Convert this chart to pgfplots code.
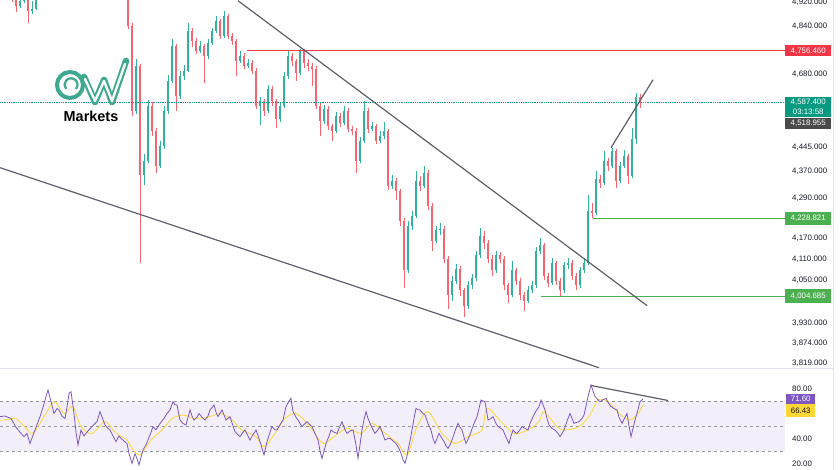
\documentclass[border=0pt]{standalone}
\usepackage{pgfplots}
\pgfplotsset{compat=1.18}
\usepackage{pgfplotstable}
\usepackage{fontspec}
\setmainfont{Liberation Sans}
\definecolor{cup}{HTML}{35B09C}
\definecolor{cdn}{HTML}{F5646F}
\definecolor{cred}{HTML}{F23645}
\definecolor{cteal}{HTML}{089981}
\definecolor{cgreen}{HTML}{4CAF50}
\definecolor{cgraybox}{HTML}{4A4A4A}
\definecolor{cpurple}{HTML}{7E57C2}
\definecolor{cyellow}{HTML}{FDD835}
\definecolor{ctrend}{HTML}{5D606B}
\definecolor{cband}{HTML}{F2EEFA}
\definecolor{cdash}{HTML}{9598A1}
\definecolor{cborder}{HTML}{E0E3EB}
\definecolor{clogo}{HTML}{3FA98F}
\definecolor{ctext}{HTML}{131722}

\pgfplotstableread{
x o h l c
0 5010 5020 4985 4997
4 4997 5005 4968 4979
8 4979 4990 4950 4962
12 4962 4970 4922 4934
16 4934 4940 4888 4910
20 4910 4935 4902 4927
24 4927 4955 4920 4944
28 4944 4950 4850 4892
32 4892 4925 4880 4899
36 4899 4970 4895 4962
40 4962 5005 4955 4997
44 4997 5040 4990 5032
48 5032 5075 5025 5067
52 5067 5095 5060 5085
56 5085 5112 5078 5103
60 5103 5110 5075 5085
64 5085 5130 5080 5121
68 5121 5150 5115 5139
72 5139 5145 5095 5103
76 5103 5128 5096 5121
80 5121 5148 5115 5139
84 5139 5144 5095 5103
88 5103 5110 5078 5085
92 5085 5110 5080 5103
96 5103 5108 5060 5067
100 5067 5092 5060 5085
104 5085 5090 5042 5050
108 5050 5075 5045 5067
112 5067 5072 5025 5032
116 5032 5058 5028 5050
120 5050 5055 5005 5014
124 5014 5020 4950 4962
128 4962 4970 4830 4841
132 4841 4850 4545 4561
136 4561 4730 4550 4707
140 4707 4712 4099 4360
144 4360 4425 4330 4404
148 4404 4595 4395 4577
152 4577 4590 4480 4497
156 4497 4505 4365 4388
160 4388 4465 4380 4450
164 4450 4575 4440 4561
168 4561 4675 4550 4658
172 4658 4795 4650 4773
176 4773 4780 4561 4609
180 4609 4690 4600 4674
184 4674 4710 4660 4691
188 4691 4850 4685 4824
192 4824 4835 4770 4790
196 4790 4800 4745 4757
200 4757 4790 4748 4773
204 4773 4780 4650 4740
208 4740 4795 4730 4783
212 4783 4835 4775 4824
216 4824 4875 4815 4858
220 4858 4865 4795 4807
224 4807 4892 4800 4875
228 4875 4880 4795 4807
232 4807 4815 4775 4790
236 4790 4798 4674 4724
240 4724 4755 4715 4740
244 4740 4748 4695 4707
248 4707 4728 4700 4717
252 4717 4725 4680 4691
256 4691 4698 4565 4577
260 4577 4605 4515 4593
264 4593 4600 4545 4561
268 4561 4645 4555 4632
272 4632 4640 4575 4593
276 4593 4600 4505 4535
280 4535 4590 4525 4577
284 4577 4688 4570 4674
288 4674 4755 4665 4740
292 4740 4750 4705 4724
296 4724 4730 4658 4684
300 4684 4762 4678 4757
304 4757 4762 4700 4717
308 4717 4730 4690 4707
312 4707 4715 4640 4697
316 4697 4705 4565 4577
320 4577 4585 4481 4529
324 4529 4580 4520 4567
328 4567 4575 4500 4513
332 4513 4520 4466 4497
336 4497 4558 4490 4545
340 4545 4552 4510 4523
344 4523 4577 4515 4561
348 4561 4568 4492 4503
352 4503 4512 4485 4497
356 4497 4505 4367 4404
360 4404 4478 4395 4466
364 4466 4593 4460 4561
368 4561 4568 4490 4503
372 4503 4525 4495 4513
376 4513 4520 4455 4466
380 4466 4495 4460 4481
384 4481 4526 4470 4497
388 4497 4503 4315 4327
392 4327 4360 4318 4342
396 4342 4350 4285 4312
400 4312 4318 4205 4222
404 4222 4230 4026 4077
408 4077 4220 4070 4207
412 4207 4250 4195 4237
416 4237 4373 4230 4342
420 4342 4355 4310 4327
424 4327 4388 4320 4367
428 4367 4375 4255 4267
432 4267 4275 4134 4163
436 4163 4205 4155 4193
440 4193 4215 4180 4198
444 4198 4205 4098 4111
448 4111 4118 3968 4006
452 4006 4060 3990 4048
456 4048 4094 4038 4082
460 4082 4090 4005 4020
464 4020 4028 3945 3978
468 3978 4046 3970 4034
472 4034 4068 4025 4054
476 4054 4132 4046 4120
480 4120 4200 4112 4178
484 4178 4190 4140 4157
488 4157 4165 4098 4111
492 4111 4120 4062 4077
496 4077 4132 4070 4120
500 4120 4130 4098 4111
504 4111 4118 4020 4034
508 4034 4040 3986 4006
512 4006 4105 4000 4077
516 4077 4085 4035 4048
520 4048 4055 3995 4006
524 4006 4015 3964 3992
528 3992 4032 3985 4020
532 4020 4048 4012 4034
536 4034 4145 4028 4134
540 4134 4170 4125 4149
544 4149 4155 4050 4062
548 4062 4070 4030 4042
552 4042 4112 4035 4099
556 4099 4105 4035 4048
560 4048 4055 4005 4020
564 4020 4102 4012 4091
568 4091 4114 4080 4099
572 4099 4106 4050 4062
576 4062 4070 4020 4034
580 4034 4088 4028 4077
584 4077 4112 4070 4099
588 4099 4300 4092 4252
592 4252 4275 4229 4246
596 4246 4373 4240 4348
600 4348 4360 4320 4336
604 4336 4435 4330 4404
608 4404 4412 4372 4388
612 4388 4444 4380 4435
616 4435 4440 4321 4342
620 4342 4400 4335 4388
624 4388 4436 4380 4419
628 4419 4425 4333 4357
632 4357 4507 4350 4470
636 4470 4618 4455 4606
640 4606 4615 4570 4587.4
}\candles

\begin{document}
\begin{tikzpicture}[x=1bp,y=1bp]
\path[use as bounding box, fill=white] (0,0) rectangle (840,470);

\begin{axis}[
  at={(0,102)}, anchor=south west,
  scale only axis, width=785bp, height=368bp,
  xmin=0, xmax=785,
  y coord trafo/.code={\pgfmathparse{ln(#1)}},
  y coord inv trafo/.code={\pgfmathparse{exp(#1)}},
  ymin=3924.9, ymax=5081.5,
  clip mode=individual,
  axis line style={draw=none},
  major tick length=0, minor tick length=0,
  xtick=\empty,
  ytick={3930,4050,4110,4170,4290,4370,4445,4680,4840,4920},
  yticklabels={{3,930.000},{4,050.000},{4,110.000},{4,170.000},{4,290.000},{4,370.000},{4,445.000},{4,680.000},{4,840.000},{4,920.000}},
  yticklabel pos=right,
  yticklabel style={anchor=west, inner sep=0pt, xshift=7bp, font=\fontsize{7.9}{9}\selectfont, text=ctext},
]
% candles: one wick and one body per row of the table
\pgfplotstablegetrowsof{\candles}
\pgfmathtruncatemacro{\lastrow}{\pgfplotsretval-1}
\pgfplotsforeachungrouped \i in {0,...,\lastrow}{%
  \pgfplotstablegetelem{\i}{x}\of\candles \let\cx\pgfplotsretval
  \pgfplotstablegetelem{\i}{o}\of\candles \let\co\pgfplotsretval
  \pgfplotstablegetelem{\i}{h}\of\candles \let\ch\pgfplotsretval
  \pgfplotstablegetelem{\i}{l}\of\candles \let\cl\pgfplotsretval
  \pgfplotstablegetelem{\i}{c}\of\candles \let\cc\pgfplotsretval
  \ifdim\cc pt<\co pt \def\ccol{cdn}\else\def\ccol{cup}\fi
  \edef\doplot{%
    \noexpand\addplot[\ccol, line width=0.8bp, mark=none, forget plot] coordinates {(\cx,\cl) (\cx,\ch)};%
    \noexpand\addplot[\ccol, line width=2.3bp, mark=none, forget plot] coordinates {(\cx,\co) (\cx,\cc)};%
  }%
  \doplot
}

% levels
\draw[cteal, densely dotted, line width=0.8bp] (axis cs:0,4587.4) -- (axis cs:785,4587.4);
\draw[cred, line width=1bp] (axis cs:247,4756.46) -- (axis cs:785,4756.46);
\draw[cgreen, line width=1bp] (axis cs:593,4228.821) -- (axis cs:785,4228.821);
\draw[cgreen, line width=1bp] (axis cs:541,4004.685) -- (axis cs:785,4004.685);
% trend lines
\draw[ctrend, line width=1.2bp] (axis cs:238,4927) -- (axis cs:647,3978);
\draw[ctrend, line width=1.2bp] (axis cs:0,4382) -- (axis cs:599,3808.2);
\draw[ctrend, line width=1.2bp] (axis cs:611,4444) -- (axis cs:653,4661);

% lowest two scale labels
\tikzset{slabel/.style={anchor=west, inner sep=0pt, xshift=7bp, text=ctext, font=\fontsize{7.9}{9}\selectfont}}
\node[slabel] at (axis cs:785,3874) {3,874.000};
\node[slabel] at (axis cs:785,3819) {3,819.000};

% price labels
\tikzset{plabel/.style={anchor=west, inner sep=0pt, minimum width=46bp, text=white, font=\fontsize{7.9}{9}\selectfont}}
\node[plabel, fill=cred, minimum height=11bp] at (axis cs:785,4756.46) {4,756.460};
\node[plabel, fill=cteal, minimum height=20bp, anchor=north west, align=center, font=\fontsize{7.9}{9.5}\selectfont] at (axis cs:785,4605.6) {4,587.400\\03:13:58};
\node[plabel, fill=cgraybox, minimum height=11.5bp, anchor=north west] at (axis cs:785,4538.6) {4,518.955};
\node[plabel, fill=cgreen, minimum height=13bp] at (axis cs:785,4228.821) {4,228.821};
\node[plabel, fill=cgreen, minimum height=14bp] at (axis cs:785,4004.685) {4,004.685};
\end{axis}

\begin{axis}[
  at={(0,0)}, anchor=south west,
  scale only axis, width=785bp, height=101bp,
  xmin=0, xmax=785,
  ymin=14.8, ymax=95.6,
  clip mode=individual,
  axis line style={draw=none},
  major tick length=0, minor tick length=0,
  xtick=\empty,
  ytick={20,40,80},
  yticklabels={{20.00},{40.00},{80.00}},
  yticklabel pos=right,
  yticklabel style={anchor=west, inner sep=0pt, xshift=7bp, font=\fontsize{7.9}{9}\selectfont, text=ctext},
]
\fill[cband] (axis cs:0,30) rectangle (axis cs:785,70);
\draw[cdash, line width=0.7bp, dash pattern=on 3bp off 3bp] (axis cs:0,70) -- (axis cs:785,70);
\draw[cdash, line width=0.7bp, dash pattern=on 3bp off 3bp] (axis cs:0,50) -- (axis cs:785,50);
\draw[cdash, line width=0.7bp, dash pattern=on 3bp off 3bp] (axis cs:0,30) -- (axis cs:785,30);

\addplot[cyellow, line width=0.8bp, smooth, mark=none] coordinates {
(0,54.8)(8,55)(16,56)(24,50)(32,44)(40,52)(46,60)(54,69.5)(60,64)(65,60)(73,65.5)(81,49.5)(92,44)(105,53.5)(113,46.8)(120,42)(127,38.8)(134,30)(140,26.8)(146,33)(151,38.8)(162,46.8)(172,56)(183,58.8)(190,57)(197,56)(210,57.5)(221,60)(232,54.8)(242,46.8)(256,41.5)(264,33.5)(275,44)(285,56)(296,60)(310,49.5)(323,36)(334,41.5)(347,48.1)(361,44.1)(372,52.1)(385,44.1)(398,36)(407,26.8)(417,49.5)(428,61.5)(442,44.1)(455,36)(468,41.5)(482,46.8)(487,64.1)(501,53.5)(514,44.1)(528,46.8)(539,53.5)(544,61.5)(557,49.5)(565,46.8)(579,49.5)(590,58.8)(598,70.8)(608,69.5)(619,60)(630,54.8)(638,60)(643,66.43)
};
\addplot[cpurple, line width=0.8bp, mark=none] coordinates {
(0,57.5)(5,58)(11,56)(16,49)(20,45)(24,41.5)(27,44)(30,36)(35,46.8)(40,57.5)(43,65)(46,73.5)(48,78.8)(51,69.5)(54,60)(57,64)(59,62.8)(62,58)(65,56)(67,65)(69,76)(71,77.5)(74,60)(76,45)(78,34.8)(81,46.8)(84,42)(86,44.1)(89,47)(92,49.5)(95,52)(97,53.5)(100,61.5)(103,55)(105,50.8)(108,48)(110,46.8)(113,42)(116,37.5)(119,42)(121,40.1)(124,38)(127,36)(129,28.1)(132,20.1)(135,28)(137,24)(139,18.8)(141,25)(143,30.8)(146,35)(148,38.8)(151,45)(153,49.5)(156,47)(159,50.8)(162,54)(164,56)(167,60)(170,62.8)(173,69.5)(175,67)(177,66.8)(180,54.8)(183,52)(186,50.8)(188,57)(190,62.8)(192,58)(194,54.8)(197,57)(199,60)(202,57)(205,54.8)(208,58)(210,62.8)(214,66.8)(216,61)(218,57.5)(222,62.8)(226,54.8)(230,57.5)(233,50)(235,45.5)(238,43)(240,41.5)(243,45)(245,46.8)(248,42)(250,38.8)(253,43)(256,46.8)(259,40)(261,34.8)(264,26.8)(267,37.5)(270,45)(272,49.5)(275,47)(277,46.8)(280,51)(283,54.8)(286,65.5)(289,70)(291,72.1)(293,61.5)(296,57)(298,54.8)(300,52)(302,49.5)(305,52)(307,53.5)(310,51)(312,49.5)(315,44)(318,38.8)(320,30)(322,24.1)(324,30)(326,36)(329,42)(331,46.8)(334,45)(337,44.1)(340,50)(342,53.5)(345,47)(347,44.1)(350,46)(353,46.8)(356,35)(358,24.1)(360,35)(362,46.8)(364,55)(366,61.5)(368,56)(370,52.1)(373,47)(375,44.1)(378,47)(380,49.5)(383,43)(385,38.8)(388,40)(390,40.1)(393,38)(396,36)(399,32)(401,28.1)(403,23)(405,20.1)(407,26)(408,30.8)(410,38)(412,46.8)(414,56)(416,64.1)(418,63)(420,62.8)(423,60)(425,58.8)(428,52)(431,46.8)(433,40)(435,36)(437,40)(439,44.1)(442,40)(444,37.5)(446,34)(448,32.1)(450,35)(452,38.8)(455,46)(458,52.1)(460,49)(462,46.8)(464,41)(466,36)(469,41)(471,45.5)(474,52)(477,57.5)(479,64)(481,70.8)(483,70)(485,69.5)(487,60)(488,54.8)(491,56)(493,57.5)(496,52)(498,49.5)(501,48)(503,46.8)(506,41)(509,36)(511,42)(513,46.8)(515,45)(517,44.1)(520,47)(522,49.5)(525,48)(528,46.8)(530,52)(533,57.5)(536,62)(539,65.5)(541,70.8)(543,67)(545,62.8)(547,56)(549,50.8)(552,48)(555,46.8)(558,44)(560,41.5)(562,44)(564,46.8)(567,54)(570,60)(572,56)(574,52.1)(577,53)(579,53.5)(582,56)(584,58.8)(586,66)(588,73.5)(591,82.8)(593,78)(595,73.5)(598,71)(600,69.5)(603,71)(606,72.1)(608,69)(611,65.5)(614,64)(617,62.8)(619,57)(622,52.1)(625,57)(627,60)(629,50)(631,41.5)(633,48)(635,54.8)(638,63)(640,69.5)(643,71.6)
};
\draw[ctrend, line width=1.2bp] (axis cs:591,82.4) -- (axis cs:668,70.4);
\node[anchor=west, inner sep=0pt, minimum width=29bp, minimum height=10bp, fill=cpurple, text=white, font=\fontsize{7.9}{9}\selectfont] at (axis cs:786,71.6) {71.60};
\node[anchor=north west, inner sep=0pt, minimum width=29bp, minimum height=13bp, fill=cyellow, text=ctext, font=\fontsize{7.9}{9}\selectfont] at (axis cs:786,67.6) {66.43};
\end{axis}

% pane separator and right border
\draw[cborder, line width=0.8bp] (0,102) -- (833,102);
\draw[cborder, line width=0.8bp] (833,0) -- (833,470);

% logo watermark
\draw[clogo, line width=4bp] (70,385) circle (13);
\draw[clogo, line width=2.2bp] (76,381) arc (-40:220:6.5);
\draw[clogo, line width=6.5bp, line join=round, line cap=round] (84,393) -- (95,368) -- (104,390) -- (112,368) -- (126,409);
\draw[white, line width=2.4bp, line join=round, line cap=round] (85,391) -- (95,369) -- (104,389) -- (112,369) -- (125,406);
\node[font=\bfseries\fontsize{14.5}{16}\selectfont, text=black] at (91,354) {Markets};
\end{tikzpicture}
\end{document}
